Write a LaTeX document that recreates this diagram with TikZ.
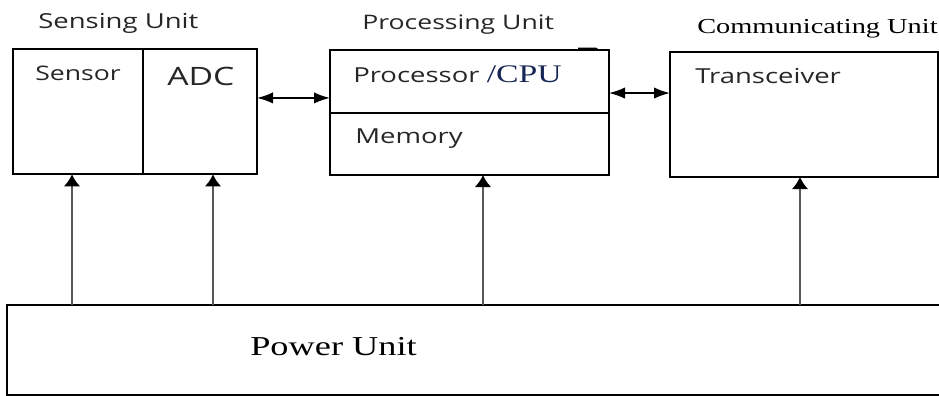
\documentclass[tikz,border=0pt]{standalone}
\usepackage{fontspec}
\setsansfont[FakeStretch=1.33]{Open Sans}
\newfontfamily\timesfont[FakeStretch=1.33]{Liberation Serif}
\usetikzlibrary{positioning,arrows.meta}
\definecolor{cpublue}{RGB}{22,38,85}
\tikzset{
	unitbox/.style={draw, line width=1.3pt, rectangle, inner sep=0pt, outer sep=0pt},
	boxtext/.style={anchor=base west, inner sep=0pt, text=black!85, font=\sffamily\fontsize{15.5}{18}\selectfont},
	sertext/.style={anchor=base west, inner sep=0pt, font=\timesfont\fontsize{16}{19}\selectfont},
	uparrow/.style={-{Latex[length=9pt,width=12.5pt,black]}, black!65, line width=1.6pt},
	busarrow/.style={{Latex[length=12pt,width=8.5pt]}-{Latex[length=12pt,width=8.5pt]}, line width=1.2pt}
}
\begin{document}
\begin{tikzpicture}[x=.75pt, y=-.75pt]
		\useasboundingbox (0, 0) rectangle (939, 396);
		\node[unitbox, anchor=north west, minimum width=97.5pt, minimum height=94pt] (sensor) at (13, 49) {};
		\node[unitbox, right=0pt of sensor, minimum width=85.5pt, minimum height=94pt] (adc) {};
		\node[unitbox, anchor=north west, minimum width=209.25pt, minimum height=47.25pt] (cpu) at (330, 50) {};
		\node[unitbox, below=0pt of cpu, minimum width=209.25pt, minimum height=46.5pt] (memory) {};
		\node[unitbox, anchor=north west, minimum width=201pt, minimum height=93.75pt] (trans) at (670, 52) {};
		\node[unitbox, anchor=north west, minimum width=720pt, minimum height=67.5pt] (power) at (7, 305) {};
		\draw[line width=1.2pt] (578, 48.5) -- (596, 48.5) -- (598, 50);

		\node[boxtext] (sensinglbl) at (38, 28) {Sensing Unit};
		\node[boxtext, font=\sffamily\fontsize{15}{18}\selectfont] (processinglbl) at (362, 29) {Processing Unit};
		\node[sertext] (commlbl) at (697, 33) {Communicating Unit};
		\node[boxtext, font=\sffamily\fontsize{15}{18}\selectfont] (sensorlbl) at (35, 80) {Sensor};
		\node[boxtext, font=\sffamily\fontsize{19}{22}\selectfont] (adclbl) at (167, 85) {ADC};
		\node[boxtext] (cpulbl) at (353, 82) {Processor \textcolor{cpublue}{\timesfont\fontsize{19}{22}\selectfont/CPU}};
		\node[boxtext] (memorylbl) at (355, 143) {Memory};
		\node[boxtext] (translbl) at (695, 83) {Transceiver};
		\node[sertext, font=\timesfont\fontsize{20.5}{24}\selectfont] (powerlbl) at (250, 355) {Power Unit};

		\path ([yshift=10.3pt]adc.east) coordinate (bus1) ([yshift=16.1pt]trans.west) coordinate (bus2);
		\draw[busarrow] (bus1) -- (cpu.west |- bus1);
		\draw[busarrow] (cpu.east |- bus2) -- (bus2);
		\foreach \n/\dx in {sensor/-4.5pt, adc/9.75pt, memory/10.1pt, trans/-3pt} {
			\path ([xshift=\dx]\n.south) coordinate (tip);
			\draw[uparrow] (power.north -| tip) -- (tip);
		}
	\end{tikzpicture}
\end{document}
